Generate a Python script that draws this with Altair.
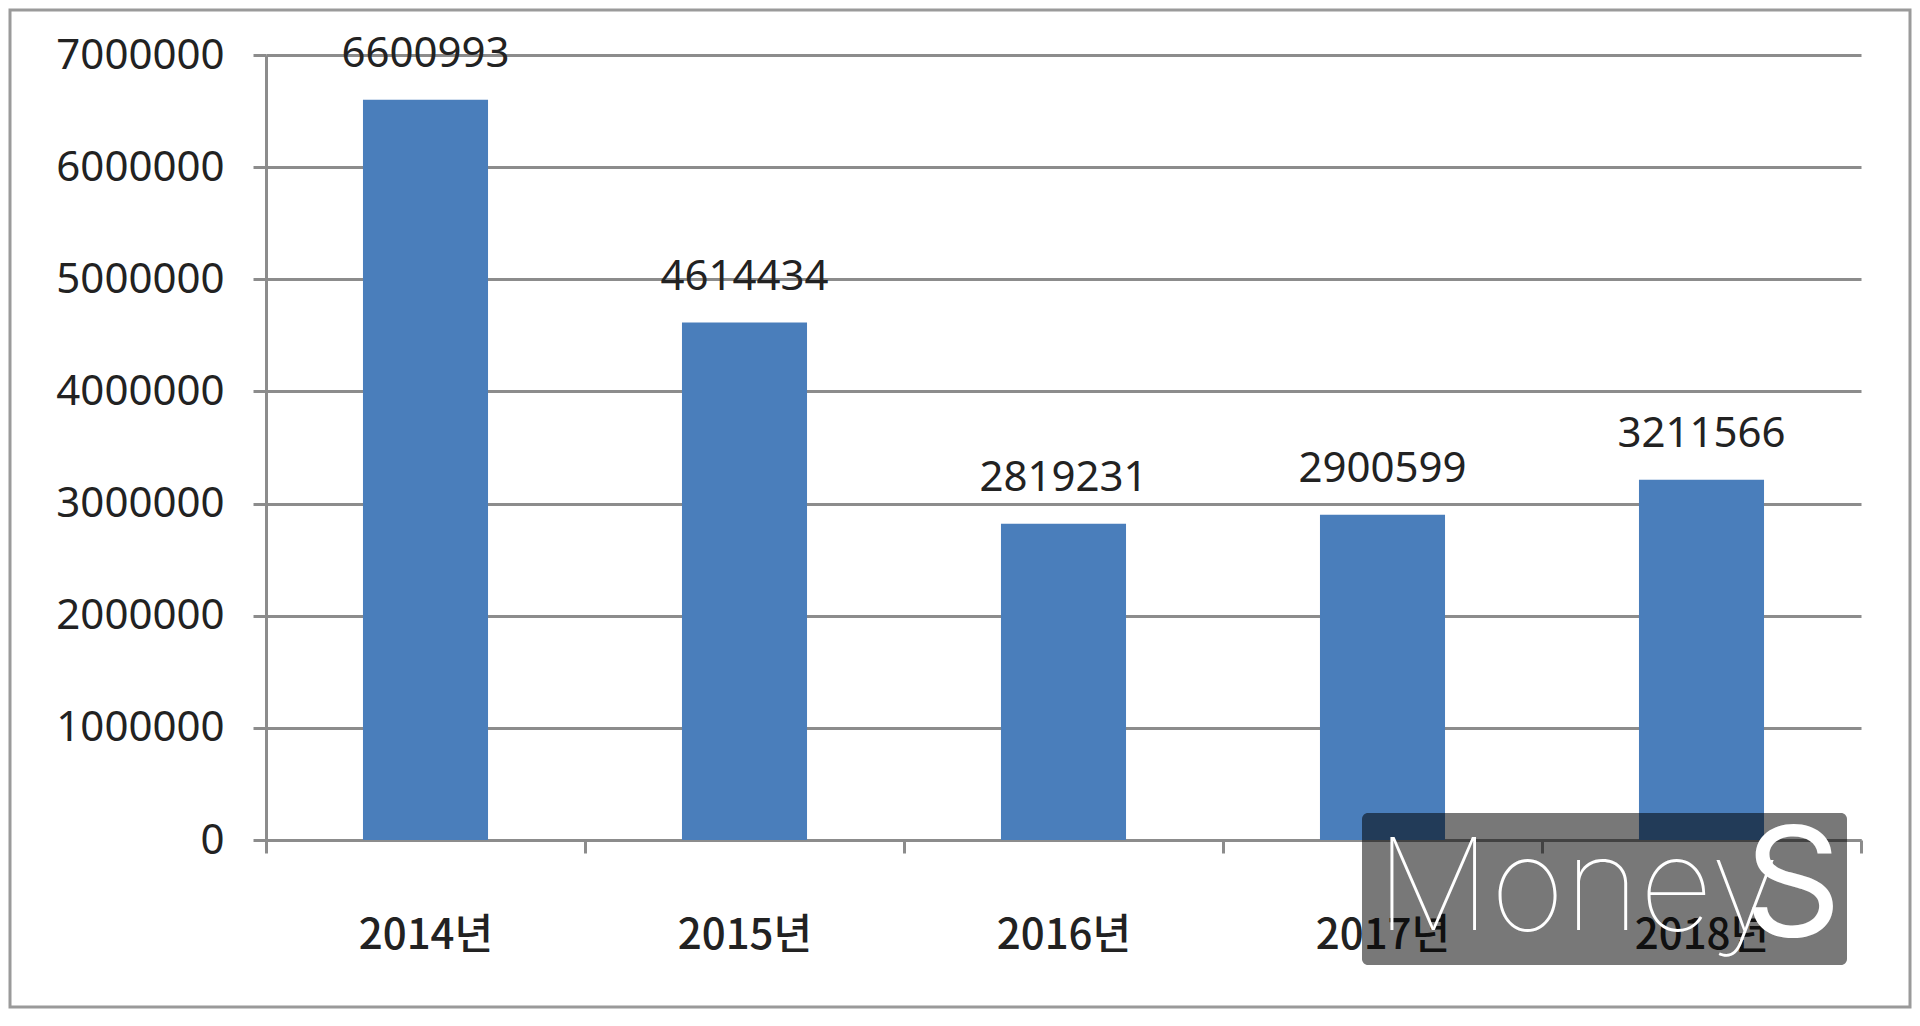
import altair as alt
import pandas as pd

years = ["2014년", "2015년", "2016년", "2017년", "2018년"]
values = [6600993, 4614434, 2819231, 2900599, 3211566]
y_ticks = [0, 1000000, 2000000, 3000000, 4000000, 5000000, 6000000, 7000000]
watermark_main = "Money"
watermark_end = "S"

df = pd.DataFrame({"year": years, "value": values})
one = pd.DataFrame({"k": [0]})

GRID = "#8c8c8c"
W, H = 1595, 785

x_enc = alt.X(
    "year:N",
    sort=years,
    scale=alt.Scale(paddingInner=0, paddingOuter=0),
    axis=alt.Axis(
        title=None,
        labelAngle=0,
        tickBand="extent",
        ticks=True,
        tickSize=13,
        tickWidth=3,
        tickColor=GRID,
        domain=True,
        domainColor=GRID,
        domainWidth=3,
        grid=False,
        labelFont="Noto Sans CJK KR",
        labelFontSize=42,
        labelFontWeight=500,
        labelColor="#222222",
        labelPadding=62,
    ),
)
y_enc = alt.Y(
    "value:Q",
    scale=alt.Scale(domain=[0, 7000000], nice=False),
    axis=alt.Axis(
        title=None,
        values=y_ticks,
        format="d",
        grid=True,
        gridColor=GRID,
        gridWidth=3,
        domain=True,
        domainColor=GRID,
        domainWidth=3,
        ticks=True,
        tickSize=13,
        tickWidth=3,
        tickColor=GRID,
        labelFont="Noto Sans",
        labelFontSize=42,
        labelColor="#222222",
        labelPadding=29,
    ),
)

base = alt.Chart(df)
bars = base.mark_bar(color="#4A7EBB", width={"band": 0.392}).encode(x=x_enc, y=y_enc)
labels = base.mark_text(
    font="Noto Sans", fontSize=42, color="#222222", baseline="middle", dy=-46
).encode(
    x=alt.X("year:N", sort=years),
    y="value:Q",
    text=alt.Text("value:Q", format="d"),
)

wm_box = alt.Chart(one).mark_rect(color="#000000", opacity=0.53, cornerRadius=6).encode(
    x=alt.value(1096), x2=alt.value(1581), y=alt.value(758), y2=alt.value(910)
)
wm_text1 = alt.Chart(one).mark_text(
    text=watermark_main, font="Inter", fontWeight=100, fontSize=128,
    color="white", align="left", baseline="alphabetic"
).encode(x=alt.value(1110), y=alt.value(875))
wm_text2 = alt.Chart(one).mark_text(
    text=watermark_end, font="Inter", fontWeight=400, fontSize=152,
    color="white", align="left", baseline="alphabetic"
).encode(x=alt.value(1478), y=alt.value(881))

border = alt.Chart(one).mark_rect(fill="white", fillOpacity=0, stroke="#9a9a9a", strokeWidth=3).encode(
    x=alt.value(-256), x2=alt.value(1644), y=alt.value(-45), y2=alt.value(952)
)

chart = alt.layer(border, bars, labels, wm_box, wm_text1, wm_text2).properties(
    width=W,
    height=H,
    autosize=alt.AutoSizeParams(type="none"),
    padding={"left": 258, "top": 47, "right": 51, "bottom": 170},
    background="white",
).configure_view(strokeWidth=0)

chart.save("out.html", embed_options={"renderer": "svg", "actions": False})
